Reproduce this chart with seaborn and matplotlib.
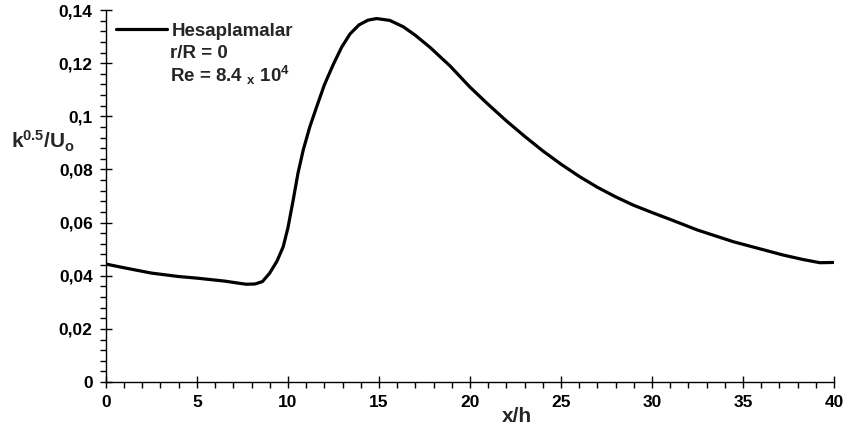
import matplotlib
matplotlib.use("Agg")
import matplotlib.pyplot as plt
import seaborn as sns
import pandas as pd

# values
x_h = [0, 1, 2.5, 4, 5, 6.5, 7.7, 8.2, 8.6, 9.0, 9.4, 9.74, 10.0, 10.29,
       10.55, 10.84, 11.2, 11.58, 12.0, 12.49, 12.95, 13.41, 13.9, 14.4,
       14.87, 15.6, 16.34, 17.0, 17.8, 18.9, 20, 21, 22, 23, 24, 25, 26,
       27, 28, 29, 30, 31, 32.5, 34.47, 36.0, 37.2, 38.3, 39.23, 39.96]
k_uo = [0.0444, 0.0430, 0.0410, 0.0397, 0.0391, 0.0380, 0.0368, 0.0369,
        0.0378, 0.0410, 0.0455, 0.0509, 0.0580, 0.0685, 0.0785, 0.0873,
        0.0960, 0.1036, 0.1118, 0.1195, 0.1260, 0.1310, 0.1344, 0.1362,
        0.1368, 0.1361, 0.1337, 0.1305, 0.1260, 0.1190, 0.1110, 0.1045,
        0.0983, 0.0925, 0.0870, 0.0820, 0.0774, 0.0733, 0.0697, 0.0665,
        0.0638, 0.0612, 0.0572, 0.0528, 0.0500, 0.0478, 0.0461, 0.0449,
        0.0450]

y_ticks = [0, 0.02, 0.04, 0.06, 0.08, 0.1, 0.12, 0.14]
y_labels = ["0", "0,02", "0,04", "0,06", "0,08", "0,1", "0,12", "0,14"]
x_ticks = [0, 5, 10, 15, 20, 25, 30, 35, 40]

df = pd.DataFrame({"x/h": x_h, "k": k_uo})

sns.set_theme(style="white")
plt.rcParams["font.family"] = ["Liberation Sans", "DejaVu Sans"]
plt.rcParams["font.weight"] = "bold"
plt.rcParams["mathtext.fontset"] = "custom"
plt.rcParams["mathtext.rm"] = "Liberation Sans:bold"
plt.rcParams["mathtext.it"] = "Liberation Sans:bold"
plt.rcParams["mathtext.bf"] = "Liberation Sans:bold"

fig = plt.figure(figsize=(8.47, 4.30), dpi=100)
ax = fig.add_axes([0.125, 0.1116, 0.8597, 0.865])

sns.lineplot(data=df, x="x/h", y="k", color="black", linewidth=2.3, ax=ax,
             label="Hesaplamalar")

ax.set_xlim(0, 40)
ax.set_ylim(0, 0.14)
ax.set_xticks(x_ticks)
ax.set_xticklabels([str(t) for t in x_ticks])
ax.set_yticks(y_ticks)
ax.set_yticklabels(y_labels)
ax.set_xticks(range(0, 41), minor=True)
ax.set_yticks([i * 0.004 for i in range(36)], minor=True)

for s in ["top", "right"]:
    ax.spines[s].set_visible(False)
for s in ["left", "bottom"]:
    ax.spines[s].set_color("black")
    ax.spines[s].set_linewidth(1.0)

ax.tick_params(which="major", direction="inout", length=9, width=1.0,
               colors="black", labelsize=12.5, pad=5)
ax.tick_params(which="minor", direction="out", length=4, width=1.0,
               colors="black")
ax.tick_params(axis="x", which="both", bottom=True)
ax.tick_params(axis="y", which="both", left=True)
for lab in ax.get_xticklabels() + ax.get_yticklabels():
    lab.set_fontweight("bold")

ax.set_xlabel("")
ax.set_ylabel("")
ax.text(22.6, -0.0095, "x/h", fontsize=15, fontweight="bold", ha="center",
        va="top")
ax.text(-1.7, 0.0905, r"k$^{\mathrm{0.5}}$/U$_{\mathrm{o}}$", fontsize=15,
        fontweight="bold", ha="right", va="center")

leg = ax.legend(loc="center left", bbox_to_anchor=(0.55, 0.1321),
                bbox_transform=ax.transData, frameon=False,
                handlelength=2.7, handletextpad=0.3, borderpad=0,
                borderaxespad=0, prop={"weight": "bold", "size": 13.5})
ax.text(3.52, 0.1238, "r/R = 0", fontsize=13.5, fontweight="bold",
        va="center")
ax.text(3.52, 0.1155, r"Re = 8.4 ${}_{\mathrm{x}}$ 10$^{\mathrm{4}}$",
        fontsize=13.5, fontweight="bold", va="center")

fig.savefig("out.png", dpi=100)
